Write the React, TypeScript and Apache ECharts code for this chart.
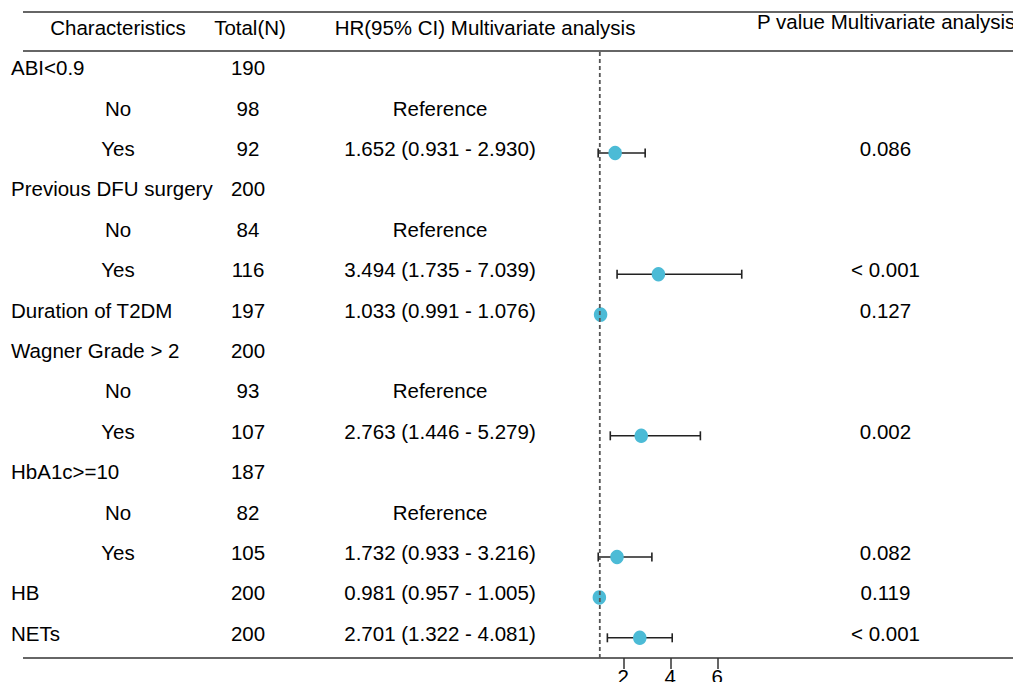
import React, { useEffect, useRef } from "react";
import * as echarts from "echarts";

const rowLabels = ["ABI<0.9", "No", "Yes", "Previous DFU surgery", "No", "Yes", "Duration of T2DM", "Wagner Grade > 2", "No", "Yes", "HbA1c>=10", "No", "Yes", "HB", "NETs"];
const rowIsSub = [false, true, true, false, true, true, false, false, true, true, false, true, true, false, false];
const totals = ["190", "98", "92", "200", "84", "116", "197", "200", "93", "107", "187", "82", "105", "200", "200"];
const hrTexts = ["", "Reference", "1.652 (0.931 - 2.930)", "", "Reference", "3.494 (1.735 - 7.039)", "1.033 (0.991 - 1.076)", "", "Reference", "2.763 (1.446 - 5.279)", "", "Reference", "1.732 (0.933 - 3.216)", "0.981 (0.957 - 1.005)", "2.701 (1.322 - 4.081)"];
const pTexts = ["", "", "0.086", "", "", "< 0.001", "0.127", "", "", "0.002", "", "", "0.082", "0.119", "< 0.001"];
const hr: (number | null)[] = [null, null, 1.652, null, null, 3.494, 1.033, null, null, 2.763, null, null, 1.732, 0.981, 2.701];
const lower: (number | null)[] = [null, null, 0.931, null, null, 1.735, 0.991, null, null, 1.446, null, null, 0.933, 0.957, 1.322];
const upper: (number | null)[] = [null, null, 2.93, null, null, 7.039, 1.076, null, null, 5.279, null, null, 3.216, 1.005, 4.081];
const headers = ["Characteristics", "Total(N)", "HR(95% CI) Multivariate analysis", "P value Multivariate analysis"];
const xTicks = [2, 4, 6];
const refValue = 1;

const FONT = "'Liberation Sans', Arial, Helvetica, sans-serif";
const FS = 20.5;

export default function App() {
  const ref = useRef<HTMLDivElement>(null);
  useEffect(() => {
    document.body.style.margin = "0";
    const chart = echarts.init(ref.current!, null, { renderer: "svg" });
    const rowIdx = rowLabels.map((_, i) => String(i));
    const pointData = hr.map((v, i) => (v == null ? null : [v, i])).filter((d) => d !== null);
    const barData = hr
      .map((v, i) => (v == null ? null : [lower[i], upper[i], i]))
      .filter((d) => d !== null);
    const textData = rowLabels.map((_, i) => [0, i]);

    const txt = (x: number, y: number, text: string, align: string) => ({
      type: "text",
      x,
      y,
      style: { text, fontSize: FS, fontFamily: FONT, fill: "#000", align, verticalAlign: "middle" },
    });

    const option: any = {
      animation: false,
      grid: { left: 576.3, right: 0, top: 52, bottom: 24, containLabel: false, outerBoundsMode: "none" },
      xAxis: {
        type: "value",
        min: 0,
        max: 18.58,
        axisLine: { show: false },
        splitLine: { show: false },
        axisTick: { show: true, customValues: xTicks, length: 11, lineStyle: { color: "#333", width: 1.5 } },
        axisLabel: { show: true, customValues: xTicks, fontSize: FS, fontFamily: FONT, color: "#000", margin: 8 },
      },
      yAxis: {
        type: "category",
        data: rowIdx,
        inverse: true,
        show: false,
      },
      graphic: [
        { type: "line", shape: { x1: 23, y1: 12, x2: 1013, y2: 12 }, style: { stroke: "#333", lineWidth: 1.5 } },
        { type: "line", shape: { x1: 23, y1: 51, x2: 1013, y2: 51 }, style: { stroke: "#333", lineWidth: 1.5 } },
        { type: "line", shape: { x1: 23, y1: 658, x2: 1013, y2: 658 }, style: { stroke: "#333", lineWidth: 1.5 } },
        { type: "text", x: 118, y: 27, style: { text: headers[0], fontSize: FS, fontFamily: FONT, fill: "#000", align: "center", verticalAlign: "middle" } },
        { type: "text", x: 250, y: 27, style: { text: headers[1], fontSize: FS, fontFamily: FONT, fill: "#000", align: "center", verticalAlign: "middle" } },
        { type: "text", x: 485, y: 27, style: { text: headers[2], fontSize: FS, fontFamily: FONT, fill: "#000", align: "center", verticalAlign: "middle" } },
        { type: "text", x: 757, y: 21, style: { text: headers[3], fontSize: FS, fontFamily: FONT, fill: "#000", align: "left", verticalAlign: "middle" } },
      ],
      series: [
        {
          type: "custom",
          name: "texts",
          clip: false,
          z: 1,
          encode: { x: 0, y: 1 },
          data: textData,
          renderItem: (params: any, api: any) => {
            const i = api.value(1);
            const y = api.coord([0, i])[1] - 4.5;
            const children: any[] = [];
            if (rowIsSub[i]) children.push(txt(118, y, rowLabels[i], "center"));
            else children.push(txt(11, y, rowLabels[i], "left"));
            children.push(txt(248, y, totals[i], "center"));
            if (hrTexts[i]) children.push(txt(440, y, hrTexts[i], "center"));
            if (pTexts[i]) children.push(txt(885.5, y, pTexts[i], "center"));
            return { type: "group", children };
          },
        },
        {
          type: "custom",
          name: "ci",
          clip: false,
          z: 2,
          encode: { x: [0, 1], y: 2 },
          data: barData,
          renderItem: (params: any, api: any) => {
            const lo = api.coord([api.value(0), api.value(2)]);
            const hi = api.coord([api.value(1), api.value(2)]);
            const h = 4.5;
            const s = { stroke: "#222", lineWidth: 1.6 };
            return {
              type: "group",
              children: [
                { type: "line", shape: { x1: lo[0], y1: lo[1], x2: hi[0], y2: hi[1] }, style: s },
                { type: "line", shape: { x1: lo[0], y1: lo[1] - h, x2: lo[0], y2: lo[1] + h }, style: s },
                { type: "line", shape: { x1: hi[0], y1: hi[1] - h, x2: hi[0], y2: hi[1] + h }, style: s },
              ],
            };
          },
        },
        {
          type: "scatter",
          name: "HR",
          z: 3,
          symbol: "circle",
          symbolSize: [13.5, 14.5],
          itemStyle: { color: "#4CBBD6", opacity: 1 },
          data: pointData,
        },
        {
          type: "custom",
          name: "ref",
          clip: false,
          z: 4,
          encode: { x: 0, y: 1 },
          data: [[refValue, 0]],
          renderItem: (params: any, api: any) => {
            const x = api.coord([api.value(0), 0])[0];
            const cs = params.coordSys;
            return {
              type: "line",
              shape: { x1: x, y1: cs.y, x2: x, y2: cs.y + cs.height },
              style: { stroke: "#555", lineWidth: 1.8, lineDash: [4, 3] },
            };
          },
        },
      ],
    };
    chart.setOption(option);
    return () => chart.dispose();
  }, []);
  return <div ref={ref} style={{ width: 1013, height: 682, position: "absolute", left: 0, top: 0, background: "#fff" }} />;
}
